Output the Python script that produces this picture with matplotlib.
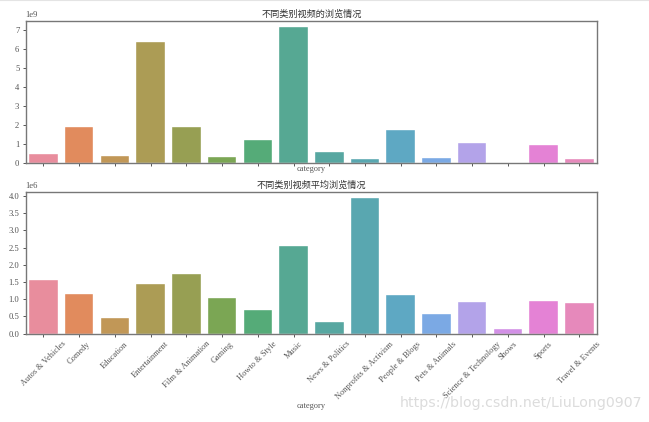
import matplotlib
matplotlib.use("Agg")
import matplotlib.pyplot as plt
import seaborn as sns

categories = ["Autos & Vehicles", "Comedy", "Education", "Entertainment",
              "Film & Animation", "Gaming", "Howto & Style", "Music",
              "News & Politics", "Nonprofits & Activism", "People & Blogs",
              "Pets & Animals", "Science & Technology", "Shows", "Sports",
              "Travel & Events"]
total_views = [0.45e9, 1.90e9, 0.35e9, 6.35e9, 1.90e9, 0.28e9, 1.20e9, 7.12e9,
               0.56e9, 0.17e9, 1.70e9, 0.27e9, 1.03e9, 0.01e9, 0.95e9, 0.20e9]
mean_views = [1.55e6, 1.15e6, 0.46e6, 1.43e6, 1.74e6, 1.04e6, 0.69e6, 2.55e6,
              0.34e6, 3.93e6, 1.13e6, 0.56e6, 0.93e6, 0.13e6, 0.95e6, 0.89e6]
top_ticks = [0, 1e9, 2e9, 3e9, 4e9, 5e9, 6e9, 7e9]
bottom_ticks = [0, 0.5e6, 1e6, 1.5e6, 2e6, 2.5e6, 3e6, 3.5e6, 4e6]
title_top = "不同类别视频的浏览情况"
title_bottom = "不同类别视频平均浏览情况"
xlabel = "category"

SERIF = "Liberation Serif"
CJK = ["Noto Sans CJK SC", "DejaVu Sans"]
TXT = "#555555"
EDGE = "#777777"
W, H = 649, 422
LEFT, RIGHT = 25.6, 597.2

colors = [sns.desaturate(c, 0.75) for c in sns.color_palette("husl", len(categories))]

fig = plt.figure(figsize=(W / 100, H / 100), dpi=100)
fig.add_artist(plt.Line2D([0, 1], [0.999, 0.999], color="#e4e4e4", lw=1.5))


def panel(top, bottom, values, title, yticks):
    ax = fig.add_axes([LEFT / W, 1 - bottom / H, (RIGHT - LEFT) / W, (bottom - top) / H])
    x = range(len(categories))
    ax.bar(x, values, width=0.8, color=colors, alpha=0.9, edgecolor="#ffffff", linewidth=0.3)
    ax.set_xlim(-0.5, len(categories) - 0.5)
    ax.set_ylim(0, max(values) * 1.05)
    ax.set_xticks(list(x))
    ax.set_yticks(yticks)
    ax.set_title(title, fontsize=6.6, family=CJK, color="#333333", pad=3)
    for s in ax.spines.values():
        s.set_color(EDGE)
        s.set_linewidth(1.0)
    ax.tick_params(axis="both", labelsize=6.2, length=2.5, width=0.7,
                   color="#555555", labelcolor=TXT, pad=2)
    for lab in ax.get_yticklabels():
        lab.set_family(SERIF)
    off = ax.yaxis.get_offset_text()
    off.set_fontsize(6.2)
    off.set_family(SERIF)
    off.set_color(TXT)
    return ax


ax1 = panel(20.7, 162.7, total_views, title_top, top_ticks)
ax1.set_xticklabels([])
ax1.set_xlabel(xlabel, fontsize=6.0, family=SERIF, color=TXT)
ax1.xaxis.set_label_coords(0.5, (162.7 - 165) / (162.7 - 20.7), transform=ax1.transAxes)

ax2 = panel(191.7, 333.7, mean_views, title_bottom, bottom_ticks)
ax2.set_xticklabels(categories, rotation=45, ha="center", family=SERIF, fontsize=6.0)
ax2.set_xlabel(xlabel, fontsize=6.0, family=SERIF, color=TXT)
ax2.xaxis.set_label_coords(0.5, (333.7 - 402) / (333.7 - 191.7), transform=ax2.transAxes)

fig.text(400 / W, 1 - 403 / H, "https://blog.csdn.net/LiuLong0907", fontsize=10.15,
         family="DejaVu Sans", color="#dcdcdc", va="center", ha="left")

fig.savefig("out.png", dpi=100)
